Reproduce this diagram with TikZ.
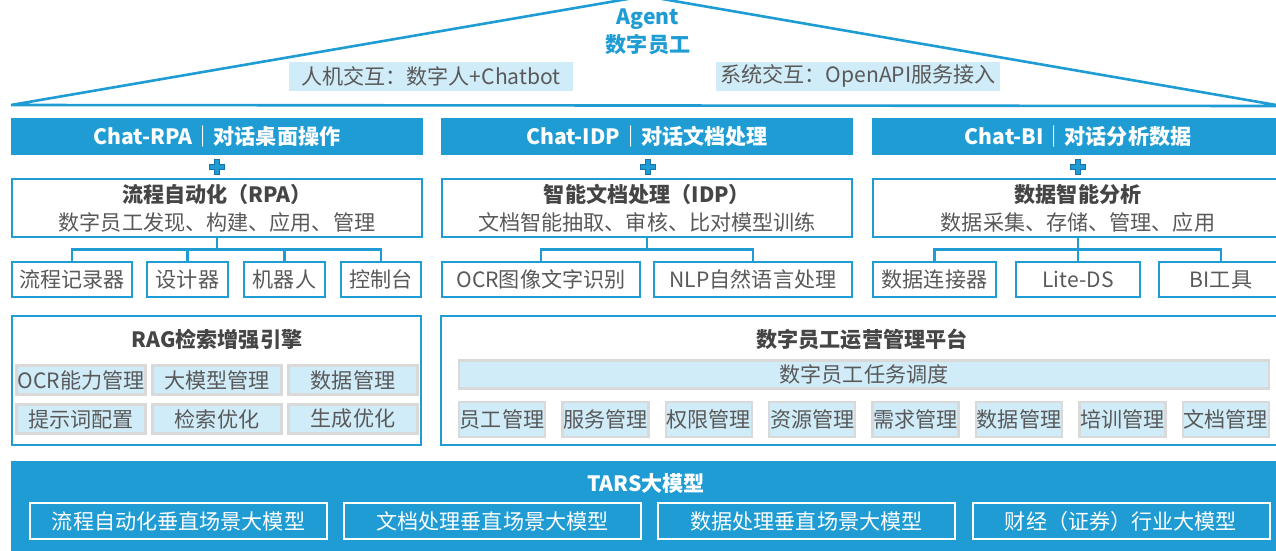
\documentclass[tikz,border=0pt]{standalone}
\usepackage{fontspec}
\setmainfont{Noto Sans CJK SC}
\usetikzlibrary{positioning}
\definecolor{Brand}{HTML}{1E9CD3}
\definecolor{BrandDark}{HTML}{1672A8}
\definecolor{Light}{HTML}{D0ECF8}
\definecolor{Muted}{HTML}{595959}
\definecolor{Dark}{HTML}{454545}
\definecolor{Rim}{HTML}{D9D9D9}
\definecolor{White}{HTML}{FFFFFF}
\newcommand{\bodysize}{\fontsize{21.1}{28}\selectfont}
\tikzset{
    roof/.style={draw=Brand, line width=2.6pt, line join=miter},
    agenttext/.style={text=Brand, font=\bfseries\bodysize, inner sep=0pt},
    tagnode/.style={rectangle, fill=Light, text=Muted, font=\bodysize, minimum height=29pt, inner sep=0pt},
    headnode/.style={rectangle, fill=Brand, text=White, font=\bfseries\bodysize, minimum width=412pt, minimum height=37pt, inner sep=0pt},
    modnode/.style={rectangle, draw=Brand, line width=2.5pt, fill=White, text=Muted, align=center, font=\bodysize, minimum width=410pt, minimum height=58pt, inner sep=0pt},
    leafnode/.style={rectangle, draw=Brand, line width=2.5pt, fill=White, text=Muted, font=\bodysize, minimum height=35pt, inner sep=0pt},
    link/.style={draw=Brand, line width=2.5pt},
    panel/.style={rectangle, draw=Brand, line width=2.5pt, fill=White, inner sep=0pt, minimum height=129pt},
    paneltitle/.style={text=Dark, font=\bfseries\bodysize, inner sep=0pt},
    cell/.style={rectangle, draw=Rim, line width=2.4pt, fill=Light, text=Muted, font=\bodysize, inner sep=0pt},
    basenode/.style={rectangle, fill=Brand, inner sep=0pt},
    basetitle/.style={text=White, font=\bfseries\bodysize, inner sep=0pt},
    modelnode/.style={rectangle, draw=White, line width=2pt, text=White, font=\bodysize, minimum width=297pt, minimum height=36pt, inner sep=0pt},
    plusmark/.pic={
        \filldraw[fill=Brand, draw=BrandDark, line width=1pt]
            (-2.7,-7.8) -- (2.7,-7.8) -- (2.7,-2.7) -- (7.8,-2.7) -- (7.8,2.7) -- (2.7,2.7)
            -- (2.7,7.8) -- (-2.7,7.8) -- (-2.7,2.7) -- (-7.8,2.7) -- (-7.8,-2.7) -- (-2.7,-2.7) -- cycle;
    },
}

\begin{document}
\begin{tikzpicture}[x=1pt, y=-1pt]
    \useasboundingbox (0,0) rectangle (1276,550);

    % Tetto Agent
    \draw[roof] (11,105) -- (645,-4) -- (1282,106) -- cycle;
    \node[agenttext] (agent) at (648,19) {Agent};
    \node[agenttext] (staff) at (648,45) {数字员工};
    \node[tagnode, minimum width=284pt] (human) at (431,76) {人机交互：数字人+Chatbot};
    \node[tagnode, minimum width=284pt] (system) at (858,76) {系统交互：OpenAPI服务接入};

    % Intestazioni Chat
    \node[headnode] (chatrpa) at (217,136.5) {Chat-RPA｜对话桌面操作};
    \node[headnode] (chatidp) at (647,136.5) {Chat-IDP｜对话文档处理};
    \node[headnode] (chatbi) at (1078,136.5) {Chat-BI｜对话分析数据};
    \pic at (217,167) {plusmark};
    \pic at (648,167) {plusmark};
    \pic at (1078,167) {plusmark};

    % Moduli
    \node[modnode] (rpa) at (217,208) {\textcolor{Dark}{\bfseries 流程自动化（RPA）}\\数字员工发现、构建、应用、管理};
    \node[modnode] (idp) at (647,208) {\textcolor{Dark}{\bfseries 智能文档处理（IDP）}\\文档智能抽取、审核、比对模型训练};
    \node[modnode] (bi) at (1078,208) {\textcolor{Dark}{\bfseries 数据智能分析}\\数据采集、存储、管理、应用};

    % Componenti RPA
    \node[leafnode, minimum width=120pt] (recorder) at (72,279.5) {流程记录器};
    \node[leafnode, minimum width=81pt] (designer) at (187.5,279.5) {设计器};
    \node[leafnode, minimum width=81pt] (robot) at (284.5,279.5) {机器人};
    \node[leafnode, minimum width=80pt] (console) at (381,279.5) {控制台};
    \draw[link] (rpa.south) -- ++(0,11) -| (recorder.north);
    \draw[link] (rpa.south) -- ++(0,11) -| (designer.north);
    \draw[link] (rpa.south) -- ++(0,11) -| (robot.north);
    \draw[link] (rpa.south) -- ++(0,11) -| (console.north);

    % Componenti IDP
    \node[leafnode, minimum width=198pt] (ocr) at (541,279.5) {OCR图像文字识别};
    \node[leafnode, minimum width=198pt] (nlp) at (753,279.5) {NLP自然语言处理};
    \draw[link] (idp.south) -- ++(0,11) -| (ocr.north);
    \draw[link] (idp.south) -- ++(0,11) -| (nlp.north);

    % Componenti BI
    \node[leafnode, minimum width=123pt] (connector) at (934.5,279.5) {数据连接器};
    \node[leafnode, minimum width=124pt] (liteds) at (1078,279.5) {Lite-DS};
    \node[leafnode, minimum width=124pt] (bitool) at (1221,279.5) {BI工具};
    \draw[link] (bi.south) -- ++(0,11) -| (connector.north);
    \draw[link] (bi.south) -- ++(0,11) -| (liteds.north);
    \draw[link] (bi.south) -- ++(0,11) -| (bitool.north);

    % RAG
    \node[panel, minimum width=409pt] (rag) at (216.5,380.5) {};
    \node[paneltitle] (ragtitle) at (217,339) {RAG检索增强引擎};
    \node[cell, minimum width=129pt, minimum height=29pt] (ocrmgmt) at (81,380) {OCR能力管理};
    \node[cell, minimum width=129pt, minimum height=29pt] (llmmgmt) at (217,380) {大模型管理};
    \node[cell, minimum width=129pt, minimum height=29pt] (datamgmt) at (353,380) {数据管理};
    \node[cell, minimum width=129pt, minimum height=29pt] (prompt) at (81,419) {提示词配置};
    \node[cell, minimum width=129pt, minimum height=29pt] (retrieval) at (217,419) {检索优化};
    \node[cell, minimum width=129pt, minimum height=29pt] (generation) at (353,419) {生成优化};

    % Piattaforma operativa
    \node[panel, minimum width=843pt] (ops) at (862.5,380.5) {};
    \node[paneltitle] (opstitle) at (862,339) {数字员工运营管理平台};
    \node[cell, minimum width=810pt, minimum height=28pt] (dispatch) at (864,374.5) {数字员工任务调度};
    \node[cell, minimum width=86pt, minimum height=35pt] (staffmgmt) at (502,419.5) {员工管理};
    \node[cell, minimum width=86pt, minimum height=35pt] (servicemgmt) at (605.4,419.5) {服务管理};
    \node[cell, minimum width=86pt, minimum height=35pt] (rightsmgmt) at (708.8,419.5) {权限管理};
    \node[cell, minimum width=86pt, minimum height=35pt] (resmgmt) at (812.2,419.5) {资源管理};
    \node[cell, minimum width=86pt, minimum height=35pt] (needmgmt) at (915.6,419.5) {需求管理};
    \node[cell, minimum width=86pt, minimum height=35pt] (opsdata) at (1019,419.5) {数据管理};
    \node[cell, minimum width=86pt, minimum height=35pt] (trainmgmt) at (1122.4,419.5) {培训管理};
    \node[cell, minimum width=86pt, minimum height=35pt] (docmgmt) at (1225.8,419.5) {文档管理};

    % Base TARS
    \node[basenode, minimum width=1290pt, minimum height=95pt] (tars) at (656,508.5) {};
    \node[basetitle] (tarstitle) at (646,483) {TARS大模型};
    \node[modelnode] (rpamodel) at (178.5,521) {流程自动化垂直场景大模型};
    \node[modelnode] (docmodel) at (492.5,521) {文档处理垂直场景大模型};
    \node[modelnode] (datamodel) at (806.5,521) {数据处理垂直场景大模型};
    \node[modelnode] (finmodel) at (1121,521) {财经（证券）行业大模型};
\end{tikzpicture}
\end{document}
